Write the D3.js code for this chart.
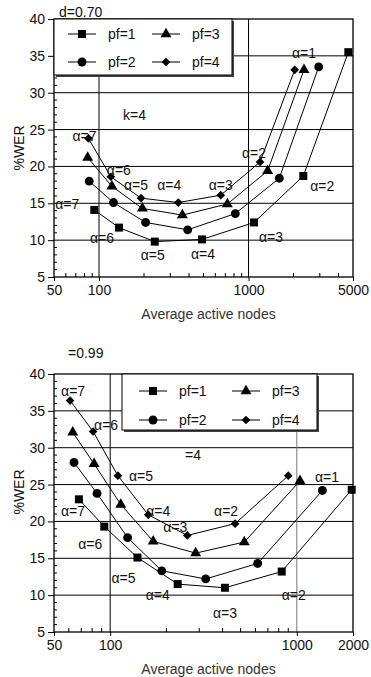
<!DOCTYPE html>
<html>
<head>
<meta charset="utf-8">
<script src="https://cdn.jsdelivr.net/npm/d3@7"></script>
<style>
  body { margin: 0; background: #fff; }
  svg text { font-family: "Liberation Sans", Arial, sans-serif; fill: #111; }
</style>
</head>
<body>
<svg id="chart" width="371" height="677"></svg>
<script>
// series names and alpha labels
const seriesNames = ["pf=1", "pf=2", "pf=3", "pf=4"];
const alphaNames = ["α=7", "α=6", "α=5", "α=4", "α=3", "α=2", "α=1"];
const werTicks = [5, 10, 15, 20, 25, 30, 35, 40];

// d = 0.70 panel (alpha 7 -> 1)
const nodes70 = [
  [93, 136, 236, 489, 1089, 2326, 4652],
  [86, 125, 205, 392, 816, 1607, 2948],
  [84, 122, 195, 361, 722, 1343, 2350],
  [85, 120, 191, 339, 652, 1194, 2037]
];
const wer70 = [
  [14.1, 11.7, 9.8, 10.1, 12.4, 18.7, 35.5],
  [18.0, 15.1, 12.4, 11.4, 13.6, 18.4, 33.5],
  [21.2, 17.3, 14.3, 13.4, 14.9, 19.4, 33.1],
  [23.8, 18.6, 15.7, 15.1, 16.1, 20.6, 33.1]
];
const xTicks70 = [50, 100, 1000, 5000];

// d = 0.99 panel (alpha 7 -> 1)
const nodes99 = [
  [68, 93, 140, 230, 412, 830, 1968],
  [64, 85, 124, 189, 325, 617, 1371],
  [63, 82, 114, 170, 287, 523, 1040],
  [61, 81, 110, 160, 259, 467, 900]
];
const wer99 = [
  [23.0, 19.3, 15.1, 11.5, 11.0, 13.2, 24.3],
  [28.0, 23.8, 17.8, 13.3, 12.2, 14.3, 24.2],
  [32.1, 27.8, 22.3, 17.3, 15.7, 17.2, 25.5],
  [36.4, 32.2, 26.2, 20.9, 18.1, 19.7, 26.2]
];
const xTicks99 = [50, 100, 1000, 2000];

// alpha annotations: [series, point, dx, dy]
const notes70 = [
  [2, 6, 0, -17], [3, 5, -6, -9], [0, 5, 19, 10], [3, 4, 0, -10], [0, 4, 17, 15],
  [3, 3, -9, -17], [0, 3, 1, 15], [3, 2, -5, -13], [0, 2, -2, 13], [3, 1, 8, -7],
  [0, 1, -17, 10], [3, 0, -4, -2], [0, 0, -27, -6]
];
const notes99 = [
  [3, 0, 3, -9], [3, 1, 13, -6], [3, 2, 23, 0], [2, 6, 27, -4], [3, 3, 10, -4],
  [3, 5, -9, -13], [3, 4, -12, -8], [0, 0, -6, 12], [0, 1, -14, 18], [0, 2, -14, 21],
  [0, 3, -20, 11], [0, 4, 0, 25], [0, 5, 12, 24]
];

const svg = d3.select("#chart");
const symbols = [d3.symbolSquare, d3.symbolCircle, d3.symbolTriangle, d3.symbolSquare];
const symSize = [64, 62, 52, 38];
const symRot = [0, 0, 0, 45];

function marker(g, i, x, y) {
  g.append("path")
    .attr("d", d3.symbol(symbols[i], symSize[i])())
    .attr("transform", `translate(${x},${y}) rotate(${symRot[i]})`)
    .attr("fill", "#000");
}

function panel(cfg) {
  const { left, right, top, bottom } = cfg;
  const x = d3.scaleLog().domain([50, cfg.xMax]).range([left, right]);
  const y = d3.scaleLinear().domain([5, 40]).range([bottom, top]);
  const g = svg.append("g");

  // gridlines
  werTicks.slice(1, -1).forEach(v => {
    g.append("line").attr("x1", left).attr("x2", right)
      .attr("y1", y(v)).attr("y2", y(v))
      .attr("stroke", "#000").attr("stroke-width", 1);
  });
  [100, 1000].forEach((v, k) => {
    g.append("line").attr("x1", x(v)).attr("x2", x(v))
      .attr("y1", top).attr("y2", bottom)
      .attr("stroke", k === 1 ? cfg.grid1000 : "#000").attr("stroke-width", 1);
  });

  // frame
  g.append("rect").attr("x", left).attr("y", top)
    .attr("width", right - left).attr("height", bottom - top)
    .attr("fill", "none").attr("stroke", "#000").attr("stroke-width", 1.3);

  // y axis: major ticks outside, minor inside
  const yAx = g.append("g").attr("transform", `translate(${left},0)`)
    .call(d3.axisLeft(y).tickValues(werTicks).tickSize(6).tickPadding(3).tickFormat(d3.format("d")));
  yAx.select(".domain").remove();
  yAx.selectAll("text").style("font-size", "14px");
  const yMinor = d3.range(5, 41).filter(v => v % 5 !== 0);
  g.selectAll(null).data(yMinor).join("line")
    .attr("x1", left).attr("x2", left + 3)
    .attr("y1", d => y(d)).attr("y2", d => y(d))
    .attr("stroke", "#000");

  // x axis
  const xAx = g.append("g").attr("transform", `translate(0,${bottom})`)
    .call(d3.axisBottom(x).tickValues(cfg.xTicks).tickSize(4).tickPadding(4).tickFormat(d3.format("d")));
  xAx.select(".domain").remove();
  xAx.selectAll("text").style("font-size", "14px");
  const xMinor = [60, 70, 80, 90, 200, 300, 400, 500, 600, 700, 800, 900, 2000, 3000, 4000]
    .filter(v => v < cfg.xMax);
  g.selectAll(null).data(xMinor).join("line")
    .attr("x1", d => x(d)).attr("x2", d => x(d))
    .attr("y1", bottom).attr("y2", bottom - 4)
    .attr("stroke", "#000");

  // series lines and markers
  cfg.nodes.forEach((xs, s) => {
    const pts = xs.map((n, i) => [x(n), y(cfg.wer[s][i])]);
    g.append("path").attr("d", d3.line()(pts))
      .attr("fill", "none").attr("stroke", "#000").attr("stroke-width", 1);
    pts.forEach(p => marker(g, s, p[0], p[1]));
  });

  // alpha labels
  cfg.notes.forEach(([s, i, dx, dy]) => {
    g.append("text")
      .attr("x", x(cfg.nodes[s][i]) + dx)
      .attr("y", y(cfg.wer[s][i]) + dy)
      .attr("dy", "0.35em")
      .attr("text-anchor", "middle")
      .style("font-size", "14px")
      .text(alphaNames[i]);
  });

  // legend
  const L = cfg.legend;
  g.append("rect").attr("x", L.x + 2).attr("y", L.y + 2).attr("width", L.w).attr("height", L.h)
    .attr("fill", "#444");
  g.append("rect").attr("x", L.x).attr("y", L.y).attr("width", L.w).attr("height", L.h)
    .attr("fill", "#fff").attr("stroke", "#000").attr("stroke-width", 1);
  seriesNames.forEach((name, s) => {
    const col = Math.floor(s / 2), row = s % 2;
    const cx = L.x + L.c0 + col * L.colW;
    const cy = L.y + L.r0 + row * L.rowH;
    g.append("line").attr("x1", cx - 14).attr("x2", cx + 14)
      .attr("y1", cy).attr("y2", cy).attr("stroke", "#000");
    marker(g, s, cx, cy);
    g.append("text").attr("x", cx + 26).attr("y", cy).attr("dy", "0.35em")
      .style("font-size", "14px").text(name);
  });

  // titles
  g.append("text")
    .attr("transform", `translate(${left - 35},${cfg.yTitleY}) rotate(-90)`)
    .attr("text-anchor", "middle").attr("dy", "0.35em")
    .style("font-size", "14px").text("%WER");
  g.append("text")
    .attr("x", (left + right) / 2 + 5).attr("y", bottom + 42)
    .attr("text-anchor", "middle").style("font-size", "14px")
    .style("fill", "#333").text("Average active nodes");
  g.append("text").attr("x", cfg.dLabel[0]).attr("y", cfg.dLabel[1])
    .style("font-size", "14px").text(cfg.dText);
  g.append("text").attr("x", cfg.kLabel[0]).attr("y", cfg.kLabel[1])
    .attr("dy", "0.35em").style("font-size", "14px").text(cfg.kText);
}

panel({
  left: 54, right: 353, top: 19, bottom: 277, xMax: 5000, xTicks: xTicks70,
  nodes: nodes70, wer: wer70, notes: notes70, grid1000: "#000", yTitleY: 148,
  legend: { x: 54, y: 19, w: 178, h: 56, c0: 28, r0: 15, colW: 84, rowH: 28 },
  dText: "d=0.70", dLabel: [59, 17], kText: "k=4", kLabel: [123, 115]
});

panel({
  left: 54, right: 353, top: 374, bottom: 632, xMax: 2000, xTicks: xTicks99,
  nodes: nodes99, wer: wer99, notes: notes99, grid1000: "#777", yTitleY: 492,
  legend: { x: 122, y: 374, w: 195, h: 56, c0: 31, r0: 17, colW: 93, rowH: 29 },
  dText: "=0.99", dLabel: [68, 358], kText: "=4", kLabel: [185, 455]
});
</script>
</body>
</html>
